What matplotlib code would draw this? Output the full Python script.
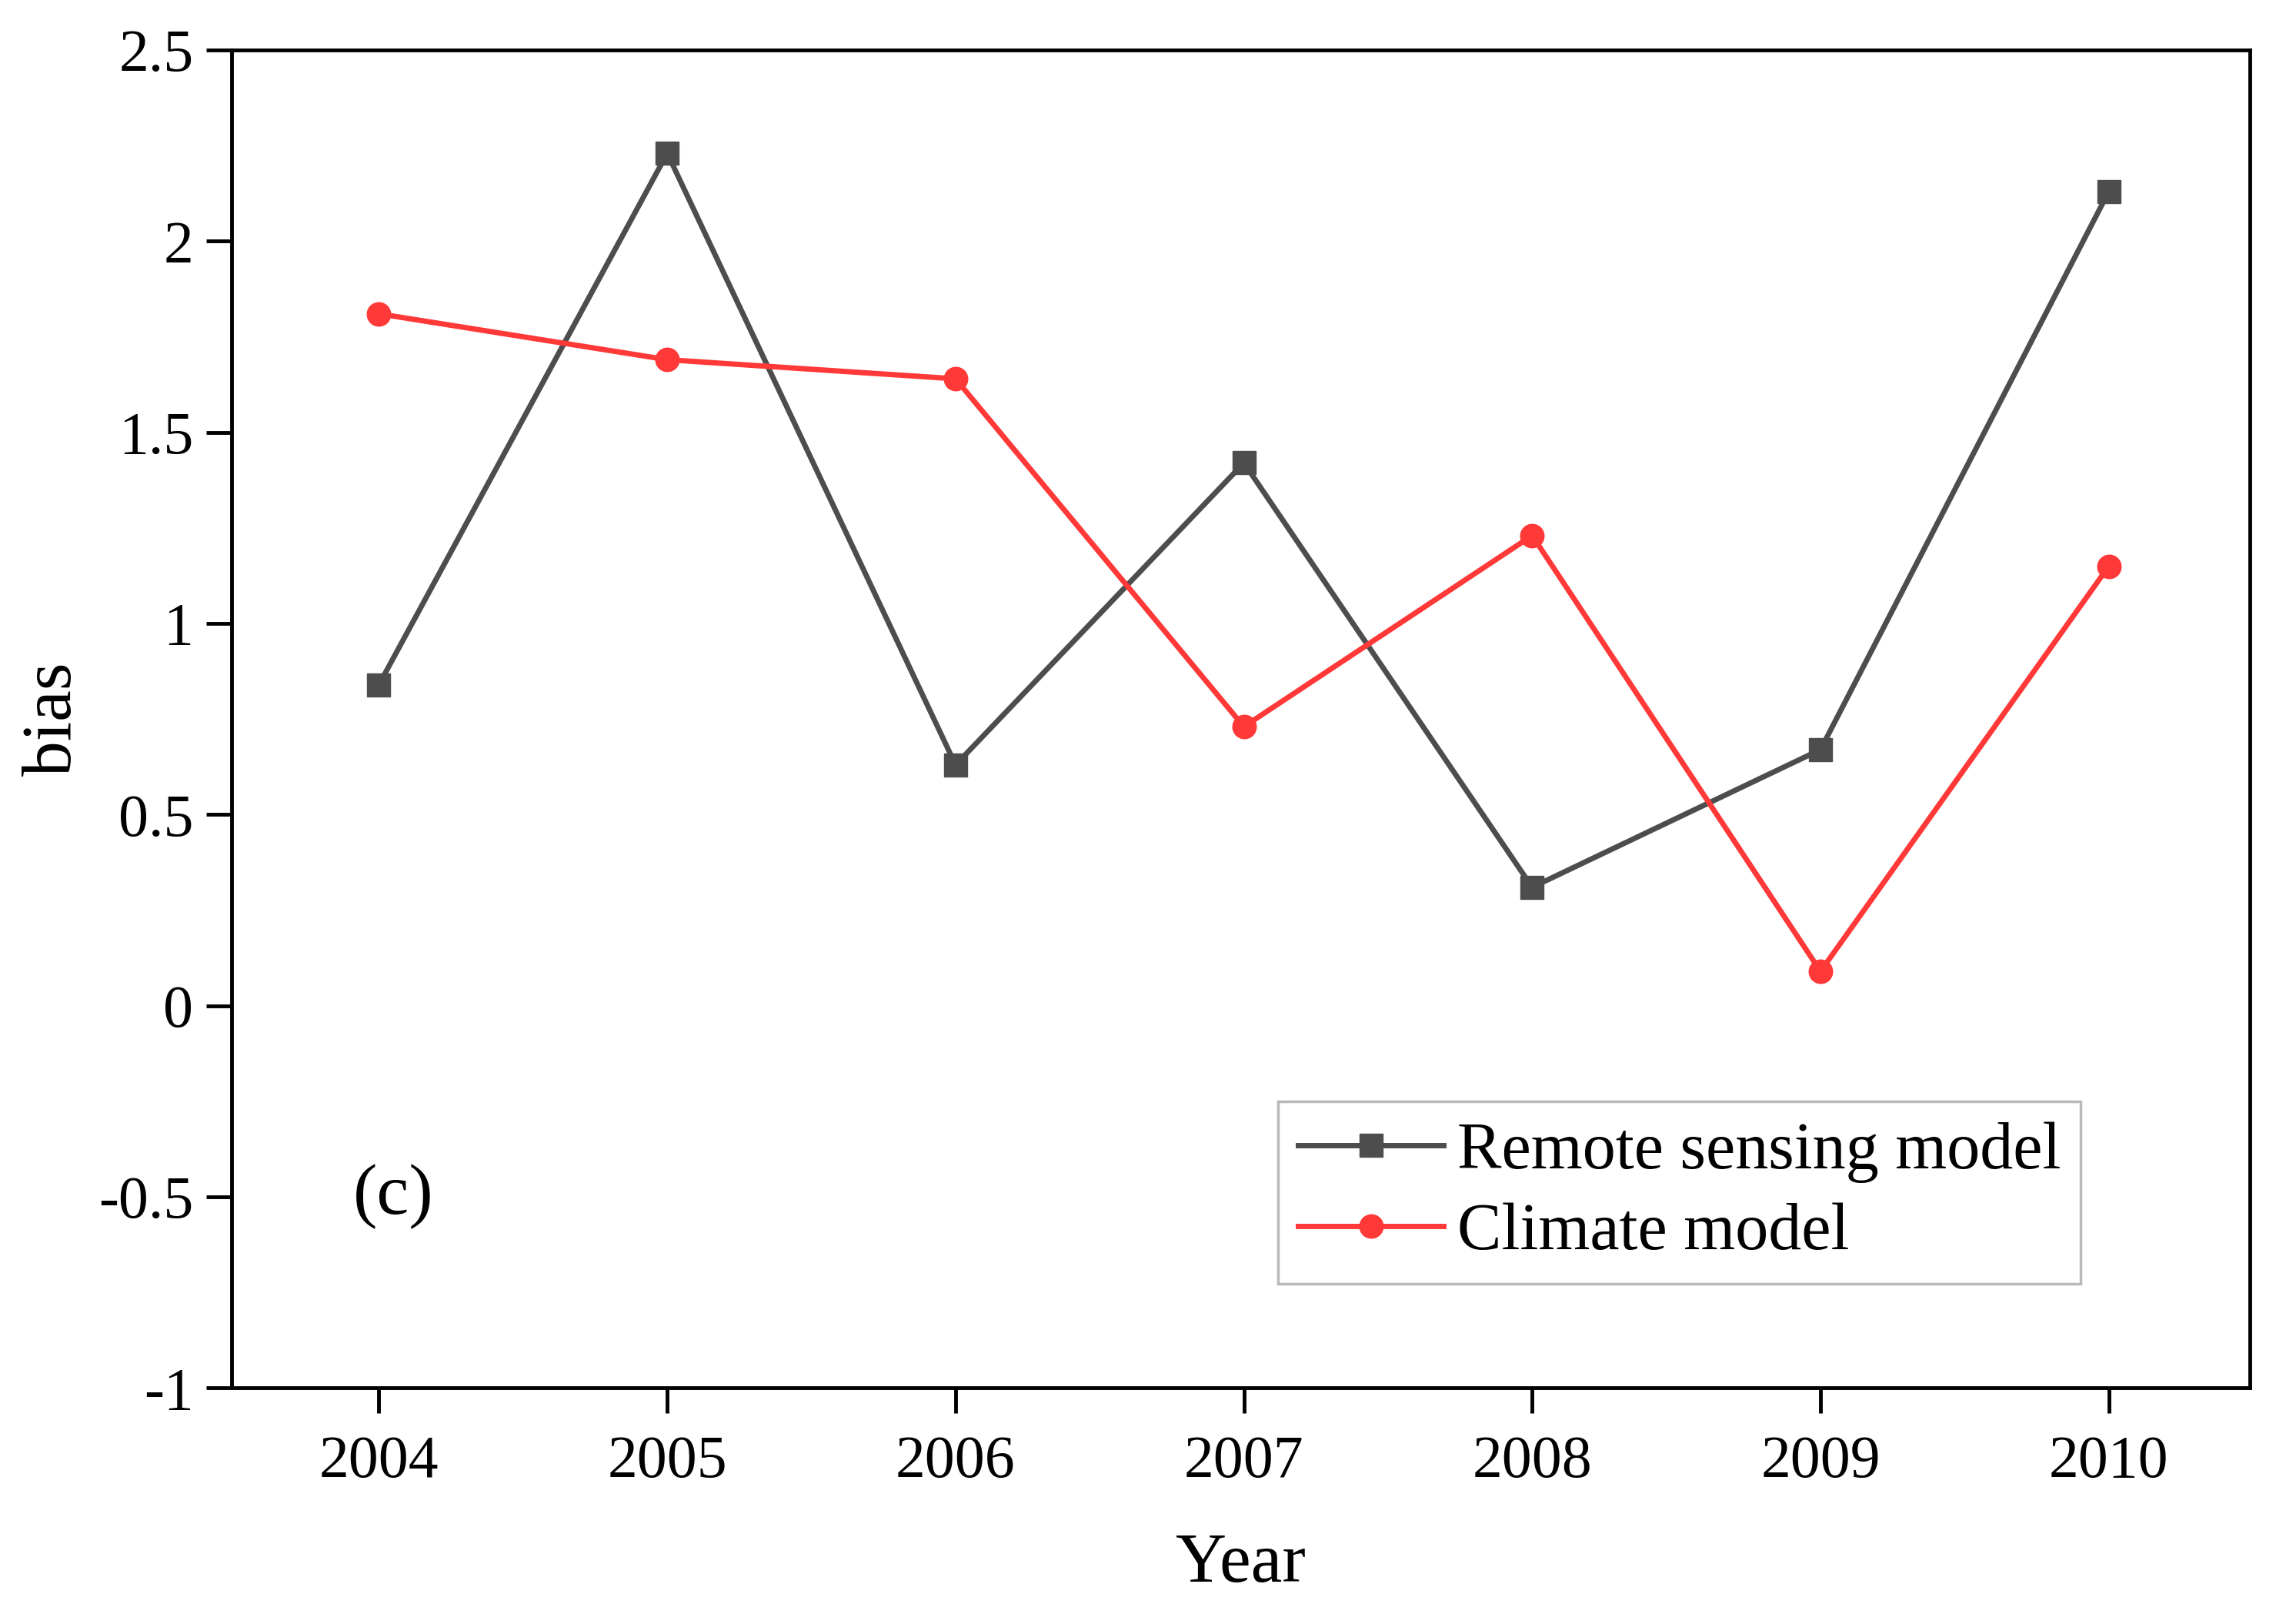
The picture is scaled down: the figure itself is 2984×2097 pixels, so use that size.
import matplotlib
matplotlib.use("Agg")
import matplotlib.pyplot as plt

plt.rcParams['font.family'] = ['Liberation Serif', 'DejaVu Serif']

years = [2004, 2005, 2006, 2007, 2008, 2009, 2010]
remote_sensing = [0.84, 2.23, 0.63, 1.42, 0.31, 0.67, 2.13]
climate = [1.81, 1.69, 1.64, 0.73, 1.23, 0.09, 1.15]
yticks = [-1, -0.5, 0, 0.5, 1, 1.5, 2, 2.5]
ytick_labels = ['-1', '-0.5', '0', '0.5', '1', '1.5', '2', '2.5']

fig = plt.figure(figsize=(29.84, 20.97), dpi=100)
ax = fig.add_axes([0.101, 0.140, 0.879, 0.829])

ax.plot(years, remote_sensing, color='#4d4d4d', linewidth=5, marker='s',
        markersize=22, label='Remote sensing model')
ax.plot(years, climate, color='#ff3838', linewidth=5, marker='o',
        markersize=22, label='Climate model')

ax.set_xlim(2003.49, 2010.49)
ax.set_ylim(-1, 2.5)
ax.set_xticks(years)
ax.set_xticklabels([str(y) for y in years])
ax.set_yticks(yticks)
ax.set_yticklabels(ytick_labels)

for s in ax.spines.values():
    s.set_linewidth(3.5)
ax.tick_params(direction='out', length=24, width=3.5, labelsize=56, pad=12)
ax.tick_params(axis='x', pad=20)

ax.set_xlabel('Year', fontsize=66, labelpad=40)
ax.set_ylabel('bias', fontsize=66, labelpad=12)

ax.text(2004.05, -0.5, '(c)', fontsize=68, ha='center', va='center')

leg = ax.legend(loc='lower right', bbox_to_anchor=(0.916, 0.078), fontsize=62,
                frameon=True, fancybox=False, handlelength=2.2, borderpad=0.3,
                labelspacing=0.3, handletextpad=0.2, borderaxespad=0)
leg.get_frame().set_edgecolor('#a8a8a8')
leg.get_frame().set_linewidth(2.5)

fig.savefig('out.png', dpi=100)
